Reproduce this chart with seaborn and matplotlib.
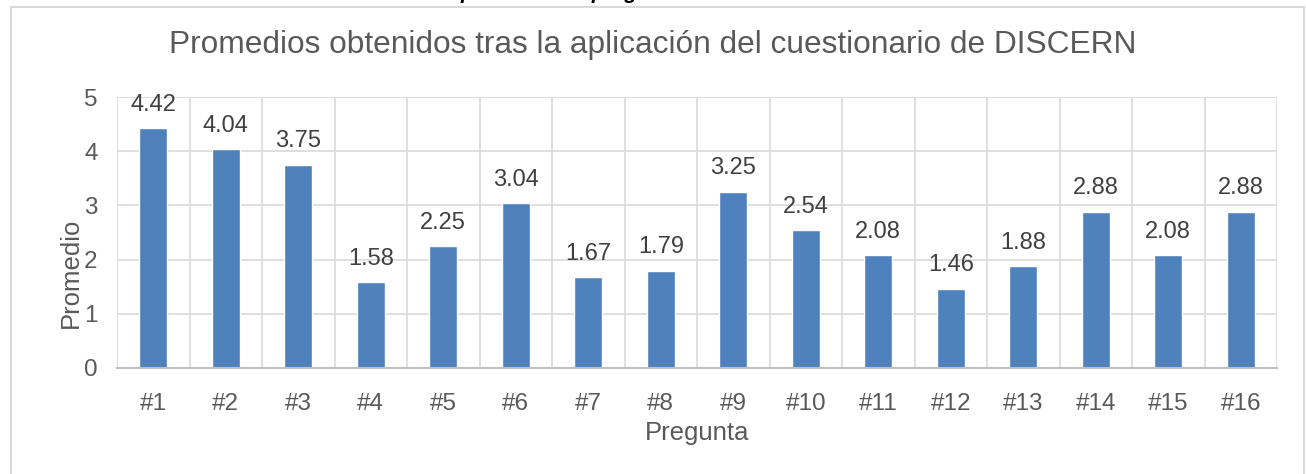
import matplotlib
matplotlib.use("Agg")
import matplotlib.pyplot as plt
import seaborn as sns
import pandas as pd
from matplotlib.patches import Rectangle
from matplotlib.ticker import FixedLocator

categories = ["#1", "#2", "#3", "#4", "#5", "#6", "#7", "#8",
              "#9", "#10", "#11", "#12", "#13", "#14", "#15", "#16"]
values = [4.42, 4.04, 3.75, 1.58, 2.25, 3.04, 1.67, 1.79,
          3.25, 2.54, 2.08, 1.46, 1.88, 2.88, 2.08, 2.88]
y_ticks = [0, 1, 2, 3, 4, 5]

title = "Promedios obtenidos tras la aplicación del cuestionario de DISCERN"
caption = "Gráfico de promedio de preguntas DISCERN"

sns.set_theme(style="white")
plt.rcParams['font.family'] = ['Liberation Sans', 'DejaVu Sans']

df = pd.DataFrame({"Pregunta": categories, "Promedio": values})

fig = plt.figure(figsize=(13.06, 4.74), dpi=100)
ax = fig.add_axes([117/1306, 1-368/474, (1277-117)/1306, (368-97)/474])

sns.barplot(data=df, x="Pregunta", y="Promedio", color="#4F81BD",
            saturation=1, width=0.39, ax=ax)

text_c = "#595959"
grid_c = "#D9D9D9"

ax.set_xlim(-0.5, len(categories) - 0.5)
ax.set_ylim(0, 5)
ax.set_yticks(y_ticks)
ax.xaxis.set_minor_locator(FixedLocator([i - 0.5 for i in range(len(categories) + 1)]))
ax.grid(True, which="minor", axis="x", color=grid_c, linewidth=1.2)
ax.grid(True, which="major", axis="y", color=grid_c, linewidth=1.2)
ax.set_axisbelow(True)
for s in ["top", "right", "left"]:
    ax.spines[s].set_visible(False)
ax.spines["bottom"].set_color("#BFBFBF")
ax.spines["bottom"].set_linewidth(1.5)
ax.tick_params(axis="both", which="both", length=0, labelsize=17.5, colors=text_c)
ax.tick_params(axis="x", pad=18)
ax.tick_params(axis="y", pad=14)

ax.set_xlabel("Pregunta", fontsize=18.5, color=text_c)
ax.set_ylabel("Promedio", fontsize=18.5, color=text_c)
ax.xaxis.label.set_va("center")
ax.xaxis.set_label_coords(0.5, (368 - 433) / 271)
ax.yaxis.label.set_va("center")
ax.yaxis.set_label_coords((71 - 117) / 1160, (368 - 273) / 271)

for c in ax.containers:
    ax.bar_label(c, labels=[f"{v:.2f}" for v in values], padding=9,
                 fontsize=17, color="#404040")

fig.text(0.5, 1 - 45/474, title, ha="center", va="center", fontsize=22.8, color=text_c)

# chart-area border
fig.patches.append(Rectangle((11/1306, -0.05), (1304-11)/1306, 1 - 7/474 + 0.05,
                             transform=fig.transFigure, fill=False,
                             edgecolor="#D9D9D9", linewidth=1.5))
# cropped caption above the chart (only its lower edge is visible, as in the reference)
fig.text(572/1306, 1 + 1/474, caption, ha="center", va="baseline", fontsize=15,
         fontweight="bold", fontstyle="italic", color="black")

fig.savefig("out.png", dpi=100, facecolor="white")
